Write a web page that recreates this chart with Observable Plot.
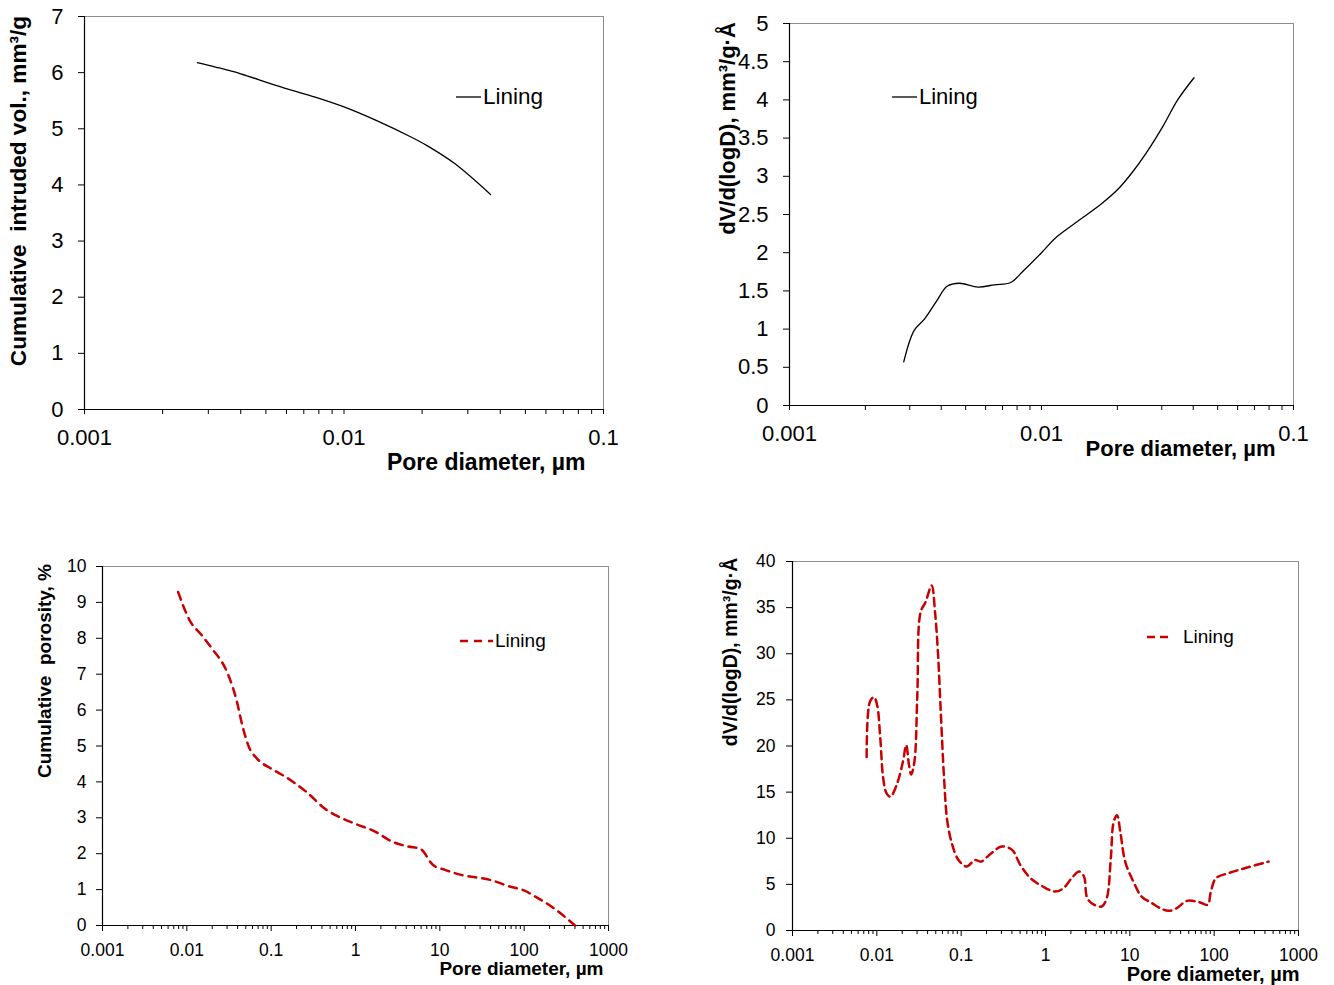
<!DOCTYPE html>
<html><head><meta charset="utf-8">
<script src="https://cdn.jsdelivr.net/npm/d3@7"></script>
<script src="https://cdn.jsdelivr.net/npm/@observablehq/plot@0.6"></script>
<style>
body{margin:0;background:#fff;}
#root{position:relative;width:1334px;height:985px;overflow:hidden;background:#fff;font-family:"Liberation Sans",Arial,sans-serif;}
.panel{position:absolute;}
.panel svg{overflow:visible;}
.legend{position:absolute;display:flex;align-items:center;white-space:nowrap;color:#000;transform:translateY(-50%);}
</style></head><body><div id="root"></div>
<script>
// ---- data ----
const seriesName = "Lining";

// Panel 1: cumulative intruded volume vs pore diameter
const p1Diameter = [0.00272, 0.0032, 0.0040, 0.0055, 0.0078, 0.0100, 0.0133, 0.0182, 0.0209, 0.0267, 0.0367];
const p1Volume   = [6.18, 6.10, 5.98, 5.77, 5.56, 5.39, 5.15, 4.85, 4.70, 4.38, 3.83];

// Panel 2: dV/d(logD) vs pore diameter (narrow range)
const p2Diameter = [0.00284, 0.00312, 0.00343, 0.00384, 0.00422, 0.00472, 0.0056, 0.0065, 0.00755, 0.00846, 0.0100, 0.01142, 0.01432, 0.0173, 0.0201, 0.0229, 0.0261, 0.0304, 0.0347, 0.0403];
const p2dV       = [0.57, 0.98, 1.13, 1.37, 1.56, 1.60, 1.55, 1.58, 1.61, 1.76, 2.00, 2.20, 2.44, 2.64, 2.83, 3.05, 3.31, 3.66, 4.00, 4.29];

// Panel 3: cumulative porosity vs pore diameter
const p3Diameter = [0.00788, 0.0108, 0.0151, 0.0199, 0.0288, 0.0311, 0.0389, 0.046, 0.0543, 0.068, 0.1, 0.148, 0.259, 0.453, 0.631, 1.0, 1.73, 2.7, 4.23, 5.9, 8.26, 11.5, 18.0, 39.4, 68.9, 101.6, 134, 210, 401];
const p3Porosity = [9.29, 8.50, 8.08, 7.71, 7.15, 6.97, 6.27, 5.53, 4.98, 4.65, 4.37, 4.14, 3.73, 3.22, 3.03, 2.83, 2.61, 2.34, 2.20, 2.13, 1.69, 1.55, 1.41, 1.27, 1.08, 0.97, 0.81, 0.53, 0.0];

// Panel 4: dV/d(logD) vs pore diameter (wide range)
const p4Diameter = [0.00757, 0.00828, 0.00927, 0.0101, 0.011, 0.0119, 0.013, 0.0145, 0.0172, 0.0204, 0.0223, 0.0241, 0.0255, 0.0279, 0.0302, 0.033, 0.0378, 0.0447, 0.049, 0.053, 0.0573, 0.0627, 0.0686, 0.0785, 0.0929, 0.116, 0.146, 0.172, 0.228, 0.302, 0.401, 0.502, 0.664, 0.93, 1.30, 1.63, 2.04, 2.5, 2.86, 3.13, 3.79, 4.64, 5.32, 5.95, 6.44, 7.05, 7.71, 8.81, 11.0, 13.8, 18.3, 22.9, 28.7, 36.0, 47.6, 66.7, 83.6, 91.4, 105, 147, 230, 442];
const p4dV       = [18.8, 24.8, 25.3, 24.4, 20.8, 16.5, 14.9, 14.5, 15.8, 18.3, 20.1, 17.9, 16.9, 18.3, 25.5, 34.5, 35.6, 37.4, 34.5, 30.2, 23.7, 16.5, 11.8, 9.28, 7.65, 6.93, 7.65, 7.47, 8.38, 9.1, 8.74, 7.11, 5.67, 4.77, 4.22, 4.58, 5.67, 6.39, 5.85, 3.5, 2.78, 2.6, 3.5, 7.83, 11.8, 12.5, 10.7, 7.47, 5.31, 3.68, 2.96, 2.42, 2.13, 2.42, 3.21, 3.07, 2.78, 4.22, 5.67, 6.21, 6.75, 7.47];

// tick values
const xTicksNarrow = [0.001, 0.01, 0.1];
const xTicksWide   = [0.001, 0.01, 0.1, 1, 10, 100, 1000];
const yTicks1 = [0, 1, 2, 3, 4, 5, 6, 7];
const yTicks2 = [0, 0.5, 1, 1.5, 2, 2.5, 3, 3.5, 4, 4.5, 5];
const yTicks3 = [0, 1, 2, 3, 4, 5, 6, 7, 8, 9, 10];
const yTicks4 = [0, 5, 10, 15, 20, 25, 30, 35, 40];

const xTitle = "Pore diameter, µm";
const yTitle1 = "Cumulative  intruded vol., mm³/g";
const yTitle2 = "dV/d(logD), mm³/g·Å";
const yTitle3 = "Cumulative  porosity, %";
const yTitle4 = "dV/d(logD), mm³/g·Å";

const FONT = '"Liberation Sans", Arial, sans-serif';
const RED = "#c80000";

function minorTicks(majors) {
  const out = [];
  for (let i = 0; i < majors.length - 1; i++) {
    for (let k = 2; k <= 9; k++) out.push(+(k * majors[i]).toPrecision(3));
  }
  return out;
}

const root = document.getElementById("root");

function panel(cfg) {
  const data = cfg.x.map((x, i) => ({x, y: cfg.y[i]}));
  const plot = Plot.plot({
    width: cfg.width, height: cfg.height,
    marginLeft: cfg.ml, marginRight: cfg.mr, marginTop: cfg.mt, marginBottom: cfg.mb,
    style: {fontFamily: FONT, color: "#000", background: "transparent", overflow: "visible"},
    x: {type: "log", domain: [cfg.xTicks[0], cfg.xTicks[cfg.xTicks.length - 1]]},
    y: {domain: [0, cfg.yTicks[cfg.yTicks.length - 1]]},
    marks: [
      Plot.frame({stroke: "#8c8c8c", strokeWidth: 1}),
      Plot.ruleX([cfg.xTicks[0]], {stroke: "#000", strokeWidth: 1.2}),
      Plot.ruleY([0], {stroke: "#000", strokeWidth: 1.2}),
      Plot.axisY(cfg.yTicks, {tickSize: 6, tickPadding: cfg.ytp, fontSize: cfg.fs, tickFormat: d => String(d), label: null}),
      Plot.axisX(cfg.xTicks, {tickSize: cfg.majTick, tickPadding: cfg.xtp, fontSize: cfg.fs, tickFormat: d => String(d), label: null}),
      Plot.axisX(minorTicks(cfg.xTicks), {tickSize: cfg.minTick, tickFormat: () => "", label: null}),
      Plot.line(data, {x: "x", y: "y", stroke: cfg.color, strokeWidth: cfg.sw, strokeDasharray: cfg.dash, curve: cfg.curve}),
      Plot.text([cfg.xTitle], {frameAnchor: "bottom-right", textAnchor: "end", lineAnchor: "middle", dx: cfg.xtdx, dy: cfg.xtdy, fontWeight: "bold", fontSize: cfg.xtfs}),
      Plot.text([cfg.yTitle], {frameAnchor: "left", rotate: -90, textAnchor: "middle", lineAnchor: "middle", dx: cfg.ytdx, dy: cfg.ytdy, fontWeight: "bold", fontSize: cfg.ytfs})
    ]
  });
  const div = document.createElement("div");
  div.className = "panel";
  div.style.left = cfg.left + "px";
  div.style.top = cfg.top + "px";
  div.appendChild(plot);
  root.appendChild(div);

  // legend
  const lg = document.createElement("div");
  lg.className = "legend";
  lg.style.left = cfg.lgLeft + "px";
  lg.style.top = cfg.lgTop + "px";
  lg.style.fontSize = cfg.lgFs + "px";
  const ns = "http://www.w3.org/2000/svg";
  const s = document.createElementNS(ns, "svg");
  s.setAttribute("width", cfg.lgLine);
  s.setAttribute("height", 6);
  const l = document.createElementNS(ns, "line");
  l.setAttribute("x1", 0); l.setAttribute("x2", cfg.lgLine);
  l.setAttribute("y1", 3); l.setAttribute("y2", 3);
  l.setAttribute("stroke", cfg.color);
  l.setAttribute("stroke-width", cfg.sw);
  if (cfg.dash) l.setAttribute("stroke-dasharray", cfg.dash);
  s.appendChild(l);
  s.style.marginRight = cfg.lgGap + "px";
  lg.appendChild(s);
  const t = document.createElement("span");
  t.textContent = seriesName;
  lg.appendChild(t);
  root.appendChild(lg);
}

panel({
  left: 0, top: 0, width: 640, height: 490, ml: 84, mr: 37, mt: 16, mb: 81,
  x: p1Diameter, y: p1Volume, xTicks: xTicksNarrow, yTicks: yTicks1,
  fs: 22, xtfs: 23, ytfs: 22.6, ytp: 15, xtp: 15, majTick: 5, minTick: 5,
  color: "#000", sw: 1.3, dash: null, curve: "catmull-rom",
  xTitle, yTitle: yTitle1, xtdx: -18, xtdy: 53, ytdx: -66, ytdy: -22,
  lgLeft: 456, lgTop: 97, lgLine: 25, lgGap: 2, lgFs: 22.5
});

panel({
  left: 690, top: 0, width: 644, height: 490, ml: 99, mr: 41, mt: 23, mb: 85,
  x: p2Diameter, y: p2dV, xTicks: xTicksNarrow, yTicks: yTicks2,
  fs: 22, xtfs: 22, ytfs: 22, ytp: 15, xtp: 15, majTick: 5, minTick: 5,
  color: "#000", sw: 1.3, dash: null, curve: "catmull-rom",
  xTitle, yTitle: yTitle2, xtdx: -18, xtdy: 43, ytdx: -62, ytdy: -86,
  lgLeft: 892, lgTop: 97, lgLine: 25, lgGap: 2, lgFs: 22
});

panel({
  left: 0, top: 500, width: 640, height: 485, ml: 102, mr: 32, mt: 66, mb: 60,
  x: p3Diameter, y: p3Porosity, xTicks: xTicksWide, yTicks: yTicks3,
  fs: 17.5, xtfs: 19, ytfs: 19, ytp: 10, xtp: 12, majTick: 6, minTick: 4,
  color: RED, sw: 2.5, dash: "8,6", curve: "monotone-x",
  xTitle, yTitle: yTitle3, xtdx: -5, xtdy: 43, ytdx: -58, ytdy: -75,
  lgLeft: 460, lgTop: 641, lgLine: 33, lgGap: 2, lgFs: 19
});

panel({
  left: 690, top: 500, width: 644, height: 485, ml: 102, mr: 36, mt: 61, mb: 55,
  x: p4Diameter, y: p4dV, xTicks: xTicksWide, yTicks: yTicks4,
  fs: 17.5, xtfs: 20, ytfs: 19.5, ytp: 11, xtp: 12, majTick: 6, minTick: 4,
  color: RED, sw: 2.5, dash: "8,5", curve: "catmull-rom",
  xTitle, yTitle: yTitle4, xtdx: 1, xtdy: 44, ytdx: -62, ytdy: -94,
  lgLeft: 1147, lgTop: 637, lgLine: 26, lgGap: 10, lgFs: 19
});
</script></body></html>
